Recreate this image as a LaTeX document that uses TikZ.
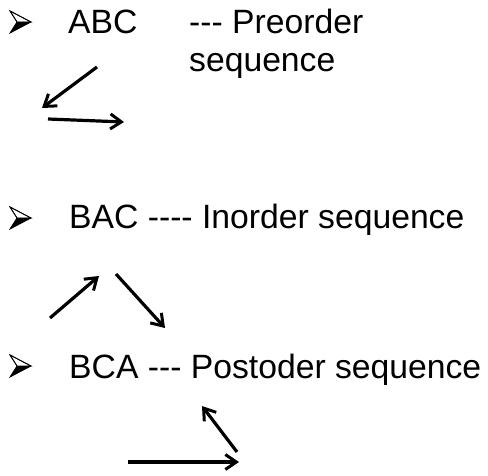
\documentclass[tikz,border=0pt]{standalone}
\usepackage{fontspec}
\setmainfont[Ligatures=TeXOff]{Liberation Sans}
\usetikzlibrary{arrows.meta}
\tikzset{
  lbl/.style={anchor=base west, inner sep=0pt, font=\fontsize{33.7}{40}\selectfont},
  conn/.style={line width=3.2pt, -{Straight Barb[length=11pt,width=15pt,line width=3pt]}},
  bulletbox/.style={line width=0.8pt, line join=miter}
}
\newcommand{\mybullet}[2]{%
  \begin{scope}[shift={(#1,#2)}]
    \draw[bulletbox, fill=white] (-10,-11) -- (11,0) -- (-3,0) -- cycle;
    \fill[black] (-10,11) -- (11,0) -- (-3,0) -- cycle;
    \draw[bulletbox] (-10,11) -- (11,0) -- (-10,-11) -- (-3,0) -- cycle;
  \end{scope}}
\begin{document}
\begin{tikzpicture}[x=1pt,y=-1pt]
\useasboundingbox (0,0) rectangle (488,476);
% bullets
\mybullet{20}{22}
\mybullet{20}{218}
\mybullet{20}{366}
% texts
\node[lbl] (abc) at (68,34) {ABC};
\node[lbl] (pre) at (189,34) {--- Preorder};
\node[lbl] (seq) at (189,72) {sequence};
\node[lbl] (bac) at (69,229) {BAC ---- Inorder sequence};
\node[lbl] (bca) at (69,378) {BCA --- Postoder sequence};
% arrow end points
\coordinate (p1s) at (97,67);   \coordinate (p1e) at (42,108);
\coordinate (p2s) at (48,119);  \coordinate (p2e) at (124,122);
\coordinate (i1s) at (50,318);  \coordinate (i1e) at (99,276);
\coordinate (i2s) at (116,274); \coordinate (i2e) at (165,328);
\coordinate (o1s) at (237,452); \coordinate (o1e) at (202,406);
\coordinate (o2s) at (128,462); \coordinate (o2e) at (239,462);
\draw[conn] (p1s) -- (p1e);
\draw[conn] (p2s) -- (p2e);
\draw[conn] (i1s) -- (i1e);
\draw[conn] (i2s) -- (i2e);
\draw[conn] (o1s) -- (o1e);
\draw[conn] (o2s) -- (o2e);
\end{tikzpicture}
\end{document}
